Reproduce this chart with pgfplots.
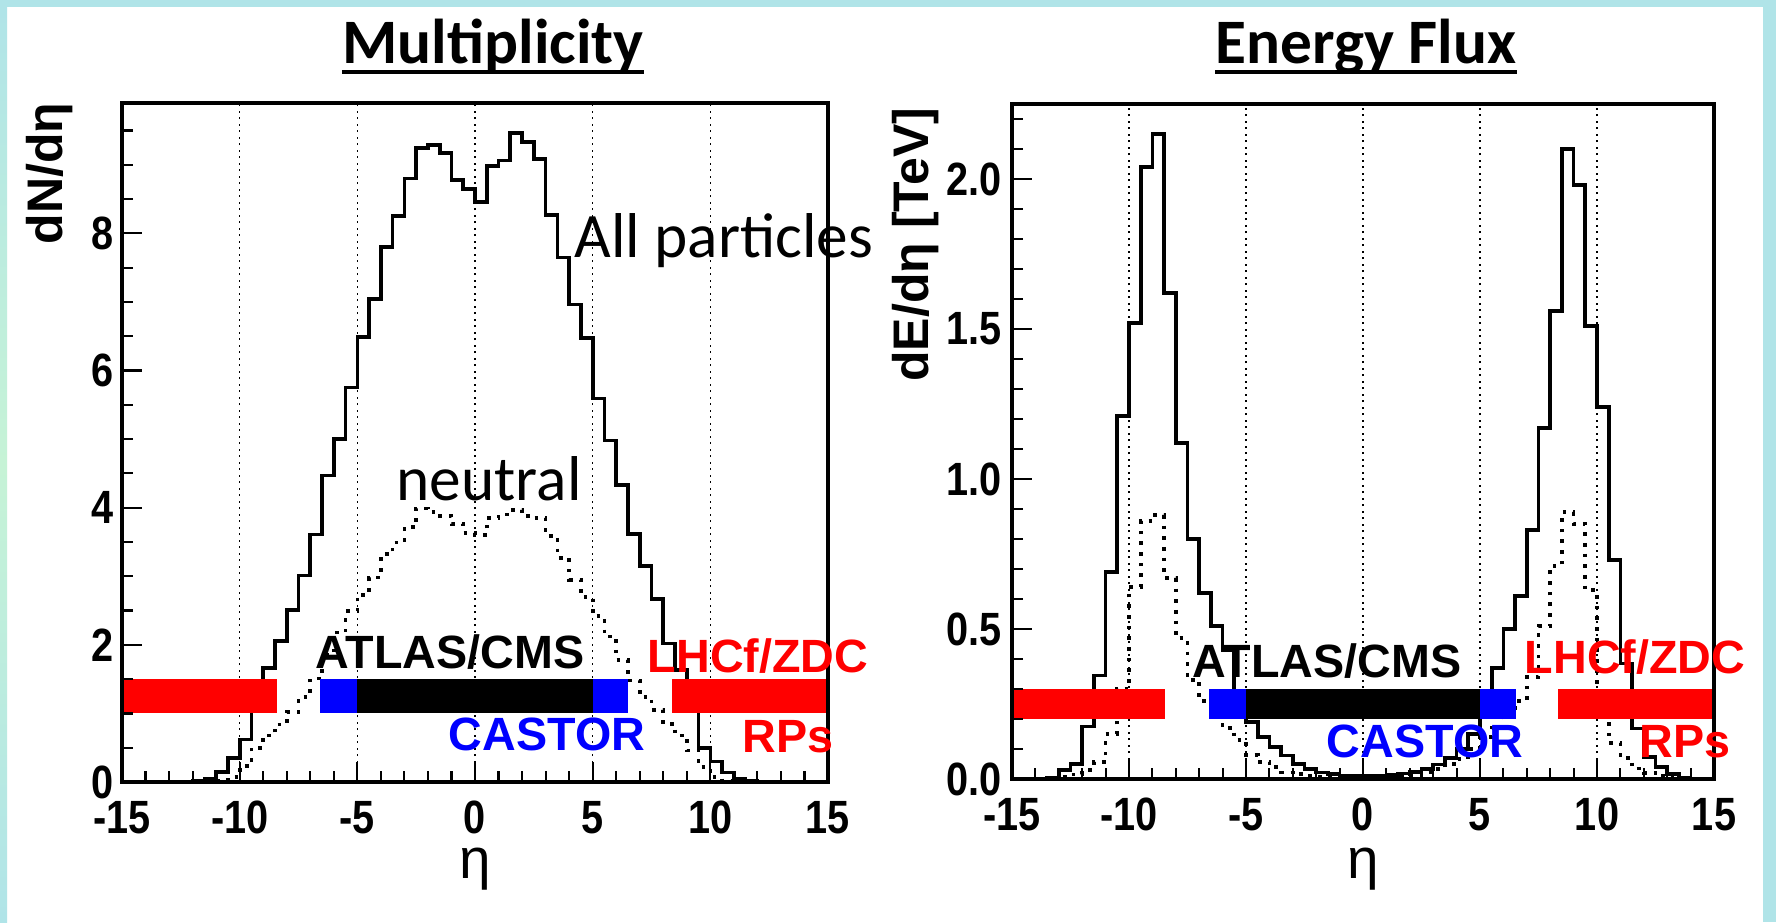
\documentclass[border=0pt]{standalone}
\usepackage{fontspec}
\setmainfont{Liberation Sans}
\newfontfamily\calibri{Carlito}
\newfontfamily\tickfont{Liberation Sans}[FakeStretch=0.85]
\usepackage{pgfplots}
\usepackage{pgfplotstable}
\pgfplotsset{compat=1.18}

\definecolor{slide}{RGB}{176,228,232}
\definecolor{slideg}{RGB}{198,243,214}

% ---------- data: bin low edge, content (bins of 0.5) ----------
\pgfplotstableread{
x y
-15 0
-14.5 0
-14 0
-13.5 0
-13 0
-12.5 0.005
-12 0.02
-11.5 0.05
-11 0.15
-10.5 0.35
-10 0.62
-9.5 1.18
-9 1.66
-8.5 2.06
-8 2.51
-7.5 3.01
-7 3.61
-6.5 4.47
-6 5.00
-5.5 5.75
-5 6.49
-4.5 7.04
-4 7.80
-3.5 8.25
-3 8.80
-2.5 9.24
-2 9.29
-1.5 9.17
-1 8.78
-0.5 8.65
0 8.46
0.5 8.98
1 9.06
1.5 9.46
2 9.33
2.5 9.08
3 8.27
3.5 7.65
4 6.96
4.5 6.47
5 5.59
5.5 4.98
6 4.33
6.5 3.62
7 3.15
7.5 2.67
8 2.02
8.5 1.63
9 1.15
9.5 0.50
10 0.30
10.5 0.14
11 0.05
11.5 0.02
12 0.005
12.5 0
13 0
13.5 0
14 0
14.5 0
15 0
}\multall

\pgfplotstableread{
x y
-15 0
-12.5 0
-12 0.005
-11.5 0.01
-11 0.02
-10.5 0.07
-10 0.23
-9.5 0.50
-9 0.68
-8.5 0.84
-8 1.02
-7.5 1.24
-7 1.51
-6.5 1.85
-6 2.18
-5.5 2.49
-5 2.73
-4.5 2.98
-4 3.32
-3.5 3.49
-3 3.72
-2.5 3.99
-2 3.94
-1.5 3.88
-1 3.76
-0.5 3.63
0 3.60
0.5 3.85
1 3.90
1.5 3.97
2 3.88
2.5 3.85
3 3.59
3.5 3.27
4 2.95
4.5 2.70
5 2.42
5.5 2.12
6 1.78
6.5 1.48
7 1.24
7.5 1.05
8 0.85
8.5 0.68
9 0.46
9.5 0.22
10 0.07
10.5 0.02
11 0.01
11.5 0.005
12 0
15 0
}\multneu

\pgfplotstableread{
x y
-15 0
-14 0
-13.5 0.005
-13 0.03
-12.5 0.05
-12 0.175
-11.5 0.345
-11 0.69
-10.5 1.21
-10 1.52
-9.5 2.04
-9 2.15
-8.5 1.62
-8 1.12
-7.5 0.80
-7 0.62
-6.5 0.51
-6 0.43
-5.5 0.28
-5 0.19
-4.5 0.14
-4 0.107
-3.5 0.078
-3 0.05
-2.5 0.033
-2 0.022
-1.5 0.016
-1 0.012
-0.5 0.01
0 0.01
0.5 0.011
1 0.013
1.5 0.018
2 0.024
2.5 0.033
3 0.048
3.5 0.07
4 0.10
4.5 0.15
5 0.27
5.5 0.37
6 0.50
6.5 0.61
7 0.83
7.5 1.17
8 1.56
8.5 2.10
9 1.98
9.5 1.51
10 1.24
10.5 0.73
11 0.385
11.5 0.168
12 0.073
12.5 0.039
13 0.017
13.5 0.005
14 0
15 0
}\enall

\pgfplotstableread{
x y
-15 0
-14 0
-13.5 0.003
-13 0.008
-12.5 0.015
-12 0.03
-11.5 0.056
-11 0.15
-10.5 0.30
-10 0.64
-9.5 0.86
-9 0.88
-8.5 0.67
-8 0.47
-7.5 0.33
-7 0.26
-6.5 0.22
-6 0.17
-5.5 0.13
-5 0.08
-4.5 0.056
-4 0.039
-3.5 0.022
-3 0.016
-2.5 0.01
-2 0.007
-1.5 0.005
-1 0.004
-0.5 0.003
0 0.003
0.5 0.004
1 0.006
1.5 0.009
2 0.014
2.5 0.022
3 0.033
3.5 0.05
4 0.067
4.5 0.10
5 0.14
5.5 0.17
6 0.21
6.5 0.26
7 0.34
7.5 0.51
8 0.71
8.5 0.89
9 0.85
9.5 0.63
10 0.26
10.5 0.12
11 0.07
11.5 0.035
12 0.02
12.5 0.01
13 0.005
13.5 0
15 0
}\enneu

\pgfplotsset{
  rootaxis/.style={
    scale only axis, anchor=south west,
    xmin=-15, xmax=15, ymin=0,
    axis on top,
    axis line style={line width=1.25pt},
    tick align=inside, tick pos=left,
    major tick length=6pt, minor tick length=3.3pt,
    every tick/.append style={black, line width=0.65pt},
    xtick={-15,-10,-5,0,5,10,15},
    xticklabels={-15,-10,-5,0,5,10,15},
    minor xtick={-14,-13,-12,-11,-9,-8,-7,-6,-4,-3,-2,-1,1,2,3,4,6,7,8,9,11,12,13,14},
    ticklabel style={font=\tickfont\bfseries\fontsize{14}{14}\selectfont},
    xticklabel style={yshift=-2.2pt},
  },
  hist/.style={const plot, black, line width=1.1pt, no marks},
  neut/.style={const plot, black, line width=1.1pt, no marks, dash pattern=on 1.1pt off 2.1pt},
  grd/.style={black, line width=0.45pt, dash pattern=on 0.55pt off 1.4pt, no marks, forget plot},
  bar/.style={draw=none, no marks, forget plot},
}

\begin{document}
\begin{tikzpicture}[x=0.3pt,y=0.3pt]
\useasboundingbox (0,0) rectangle (1776,922);
\fill[white] (0,0) rectangle (1776,922);
\fill[slide] (0,915) rectangle (1776,922);
\shade[top color=slide, bottom color=slide, middle color=slideg] (0,0) rectangle (7,915);
\fill[slide] (1763,0) rectangle (1776,915);

% ---------------- Multiplicity ----------------
\begin{axis}[rootaxis,
  at={(36.6pt,42pt)}, width=211.8pt, height=203.7pt,
  ymax=9.9,
  ytick={0,2,4,6,8}, yticklabels={0,2,4,6,8},
  minor ytick={0.5,1,1.5,2.5,3,3.5,4.5,5,5.5,6.5,7,7.5,8.5,9,9.5},
  yticklabel style={xshift=1pt},
]
\addplot[grd] coordinates {(-10,0) (-10,9.9)};
\addplot[grd] coordinates {(-5,0) (-5,9.9)};
\addplot[grd] coordinates {(0,0) (0,9.9)};
\addplot[grd] coordinates {(5,0) (5,9.9)};
\addplot[grd] coordinates {(10,0) (10,9.9)};
\addplot[hist] table[x=x,y=y] {\multall};
\addplot[neut] table[x=x,y=y] {\multneu};
\addplot[bar, fill=red] coordinates {(-15,1) (-8.4,1) (-8.4,1.5) (-15,1.5)};
\addplot[bar, fill=blue] coordinates {(-6.6,1) (-5,1) (-5,1.5) (-6.6,1.5)};
\addplot[bar, fill=black] coordinates {(-5,1) (5,1) (5,1.5) (-5,1.5)};
\addplot[bar, fill=blue] coordinates {(5,1) (6.5,1) (6.5,1.5) (5,1.5)};
\addplot[bar, fill=red] coordinates {(8.35,1) (15,1) (15,1.5) (8.35,1.5)};
\end{axis}

% ---------------- Energy flux ----------------
\begin{axis}[rootaxis,
  at={(303.6pt,42.9pt)}, width=210.6pt, height=202.5pt,
  ymax=2.25,
  ytick={0,0.5,1,1.5,2}, yticklabels={0.0,0.5,1.0,1.5,2.0},
  minor ytick={0.1,0.2,0.3,0.4,0.6,0.7,0.8,0.9,1.1,1.2,1.3,1.4,1.6,1.7,1.8,1.9,2.1,2.2},
  yticklabel style={xshift=0.3pt},
]
\addplot[grd] coordinates {(-10,0) (-10,2.25)};
\addplot[grd] coordinates {(-5,0) (-5,2.25)};
\addplot[grd] coordinates {(0,0) (0,2.25)};
\addplot[grd] coordinates {(5,0) (5,2.25)};
\addplot[grd] coordinates {(10,0) (10,2.25)};
\addplot[hist] table[x=x,y=y] {\enall};
\addplot[neut] table[x=x,y=y] {\enneu};
\addplot[bar, fill=red] coordinates {(-15,0.2) (-8.45,0.2) (-8.45,0.3) (-15,0.3)};
\addplot[bar, fill=blue] coordinates {(-6.57,0.2) (-5,0.2) (-5,0.3) (-6.57,0.3)};
\addplot[bar, fill=black] coordinates {(-5,0.2) (5,0.2) (5,0.3) (-5,0.3)};
\addplot[bar, fill=blue] coordinates {(5,0.2) (6.55,0.2) (6.55,0.3) (5,0.3)};
\addplot[bar, fill=red] coordinates {(8.35,0.2) (15,0.2) (15,0.3) (8.35,0.3)};
\end{axis}

% ---------------- titles ----------------
\node[font=\calibri\bfseries\fontsize{19}{19}\selectfont, inner sep=0, anchor=base] (t1) at (493,858) {Multiplicity};
\draw[line width=1.2pt] ([yshift=-2.5pt]t1.base west) -- ([yshift=-2.5pt]t1.base east);
\node[font=\calibri\bfseries\fontsize{19}{19}\selectfont, inner sep=0, anchor=base] (t2) at (1366,858) {Energy Flux};
\draw[line width=1.2pt] ([yshift=-2.5pt]t2.base west) -- ([yshift=-2.5pt]t2.base east);

% ---------------- axis labels ----------------
\node[rotate=90, anchor=base east, inner sep=0, font=\bfseries\fontsize{15}{15}\selectfont] at (62,820) {dN/dη};
\node[rotate=90, anchor=base east, inner sep=0, font=\bfseries\fontsize{15}{15}\selectfont] at (928,815) {dE/dη [TeV]};
\node[anchor=base, inner sep=0, font=\fontsize{17}{17}\selectfont] at (475,44) {η};
\node[anchor=base, inner sep=0, font=\fontsize{17}{17}\selectfont] at (1363,44) {η};

% ---------------- annotations ----------------
\node[anchor=base west, inner sep=0, font=\calibri\fontsize{19}{19}\selectfont] at (574,664) {All particles};
\node[anchor=base west, inner sep=0, font=\calibri\fontsize{19}{19}\selectfont] at (396,422) {neutral};

\begin{scope}[every node/.style={anchor=base, inner sep=0, font=\bfseries\fontsize{14}{14}\selectfont}]
\node at (450,254) {ATLAS/CMS};
\node[text=blue] at (547,172) {CASTOR};
\node[text=red] at (758,250) {LHCf/ZDC};
\node[text=red] at (788,170) {RPs};
\node at (1327,245) {ATLAS/CMS};
\node[text=blue] at (1425,165) {CASTOR};
\node[text=red] at (1635,249) {LHCf/ZDC};
\node[text=red] at (1685,165) {RPs};
\end{scope}
\end{tikzpicture}
\end{document}
